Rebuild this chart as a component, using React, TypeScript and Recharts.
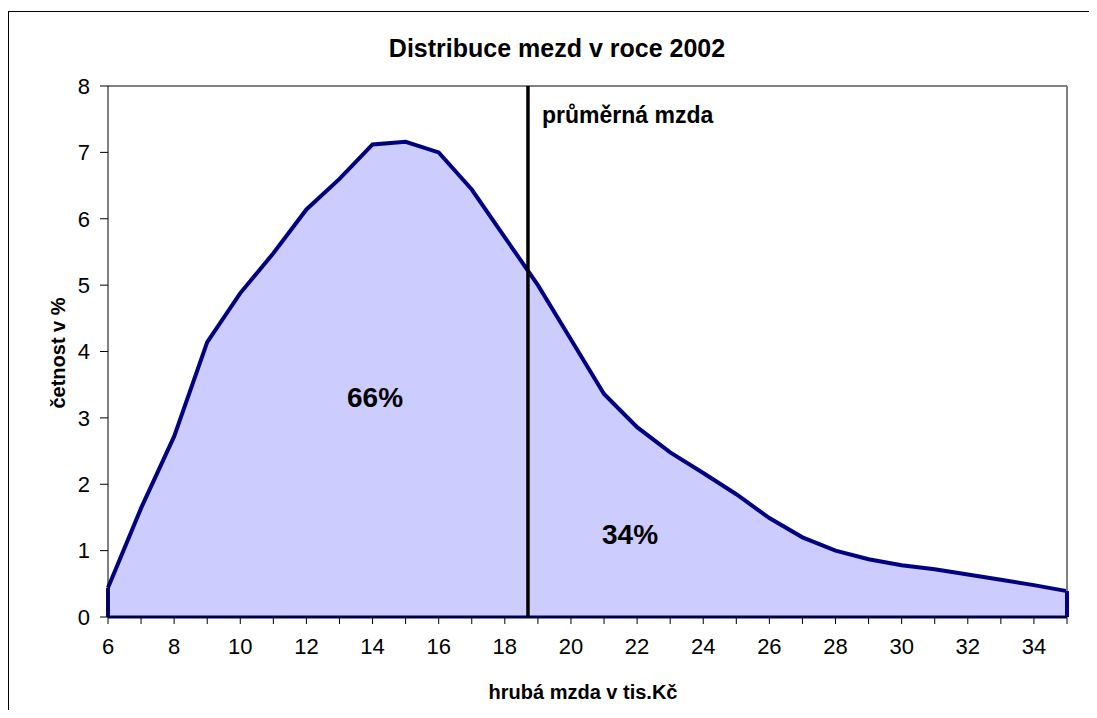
import {
  ComposedChart,
  Area,
  XAxis,
  YAxis,
  ReferenceLine,
} from 'recharts'

// hrubá mzda (tis. Kč) a četnost v %
const wages = [6, 7, 8, 9, 10, 11, 12, 13, 14, 15, 16, 17, 18, 19, 20, 21, 22, 23, 24, 25, 26, 27, 28, 29, 30, 31, 32, 33, 34, 35]
const frequency = [0.44, 1.64, 2.72, 4.14, 4.88, 5.48, 6.14, 6.6, 7.12, 7.16, 7.0, 6.44, 5.72, 5.0, 4.18, 3.36, 2.86, 2.48, 2.17, 1.85, 1.49, 1.2, 1.0, 0.87, 0.78, 0.72, 0.64, 0.56, 0.48, 0.39]
const yTicks = [0, 1, 2, 3, 4, 5, 6, 7, 8]
const MEAN_WAGE = 18.7

const TITLE = 'Distribuce mezd v roce 2002'
const X_LABEL = 'hrubá mzda v tis.Kč'
const Y_LABEL = 'četnost v %'
const MEAN_LABEL = 'průměrná mzda'
const SHARE_BELOW = '66%'
const SHARE_ABOVE = '34%'

const data = wages.map((w, i) => ({ wage: w, freq: frequency[i] }))

const FONT = 'Arial, "Liberation Sans", Helvetica, sans-serif'
const NAVY = '#000080'

const abs = (left: number, top: number, extra: React.CSSProperties = {}): React.CSSProperties => ({
  position: 'absolute',
  left,
  top,
  fontFamily: FONT,
  fontWeight: 'bold',
  color: '#000',
  whiteSpace: 'nowrap',
  lineHeight: 1,
  ...extra,
})

export default function App() {
  const first = frequency[0]
  const last = frequency[frequency.length - 1]
  const xMin = wages[0]
  const xMax = wages[wages.length - 1]

  return (
    <div
      style={{
        position: 'relative',
        marginTop: 3,
        width: 1088,
        height: 698,
        borderTop: '1px solid #000',
        borderLeft: '1px solid #000',
        fontFamily: FONT,
      }}
    >
      <ComposedChart
        width={1080}
        height={698}
        data={data}
        margin={{ top: 74, right: 22, bottom: 33, left: 0 }}
      >
        <XAxis
          dataKey="wage"
          type="number"
          domain={[xMin, xMax]}
          ticks={wages}
          interval={0}
          tickFormatter={(v: number) => (v % 2 === 0 ? String(v) : '')}
          height={60}
          tickSize={7}
          tickMargin={14}
          axisLine={{ stroke: '#000', strokeWidth: 1 }}
          tickLine={{ stroke: '#000' }}
          tick={{ fill: '#000', fontSize: 22, fontFamily: FONT }}
        />
        <YAxis
          type="number"
          domain={[0, 8]}
          ticks={yTicks}
          interval={0}
          width={99}
          tickSize={8}
          tickMargin={10}
          axisLine={{ stroke: '#000', strokeWidth: 1 }}
          tickLine={{ stroke: '#000' }}
          tick={{ fill: '#000', fontSize: 22, fontFamily: FONT }}
        />
        <ReferenceLine y={8} stroke="#808080" strokeWidth={2} />
        <ReferenceLine x={xMax} stroke="#808080" strokeWidth={2} />
        <Area
          type="linear"
          dataKey="freq"
          stroke={NAVY}
          strokeWidth={4}
          fill="#CCCCFF"
          fillOpacity={1}
          baseValue={0}
          isAnimationActive={false}
          dot={false}
          activeDot={false}
        />
        <ReferenceLine y={0} stroke={NAVY} strokeWidth={3} />
        <ReferenceLine
          segment={[{ x: xMin, y: 0 }, { x: xMin, y: first }]}
          stroke={NAVY}
          strokeWidth={4}
        />
        <ReferenceLine
          segment={[{ x: xMax, y: 0 }, { x: xMax, y: last }]}
          stroke={NAVY}
          strokeWidth={4}
        />
        <ReferenceLine x={MEAN_WAGE} stroke="#000" strokeWidth={3.5} />
      </ComposedChart>

      <div style={abs(548, 24, { width: 0, display: 'flex', justifyContent: 'center', fontSize: 25 })}>
        <span>{TITLE}</span>
      </div>
      <div style={abs(533, 92, { fontSize: 23 })}>{MEAN_LABEL}</div>
      <div style={abs(366, 372, { width: 0, display: 'flex', justifyContent: 'center', fontSize: 28 })}>
        <span>{SHARE_BELOW}</span>
      </div>
      <div style={abs(621, 509, { width: 0, display: 'flex', justifyContent: 'center', fontSize: 28 })}>
        <span>{SHARE_ABOVE}</span>
      </div>
      <div style={abs(574, 670, { width: 0, display: 'flex', justifyContent: 'center', fontSize: 20 })}>
        <span>{X_LABEL}</span>
      </div>
      <div
        style={abs(39, 341, {
          width: 0,
          display: 'flex',
          justifyContent: 'center',
          fontSize: 20,
          transform: 'rotate(-90deg)',
          transformOrigin: '0 0',
        })}
      >
        <span>{Y_LABEL}</span>
      </div>
    </div>
  )
}
